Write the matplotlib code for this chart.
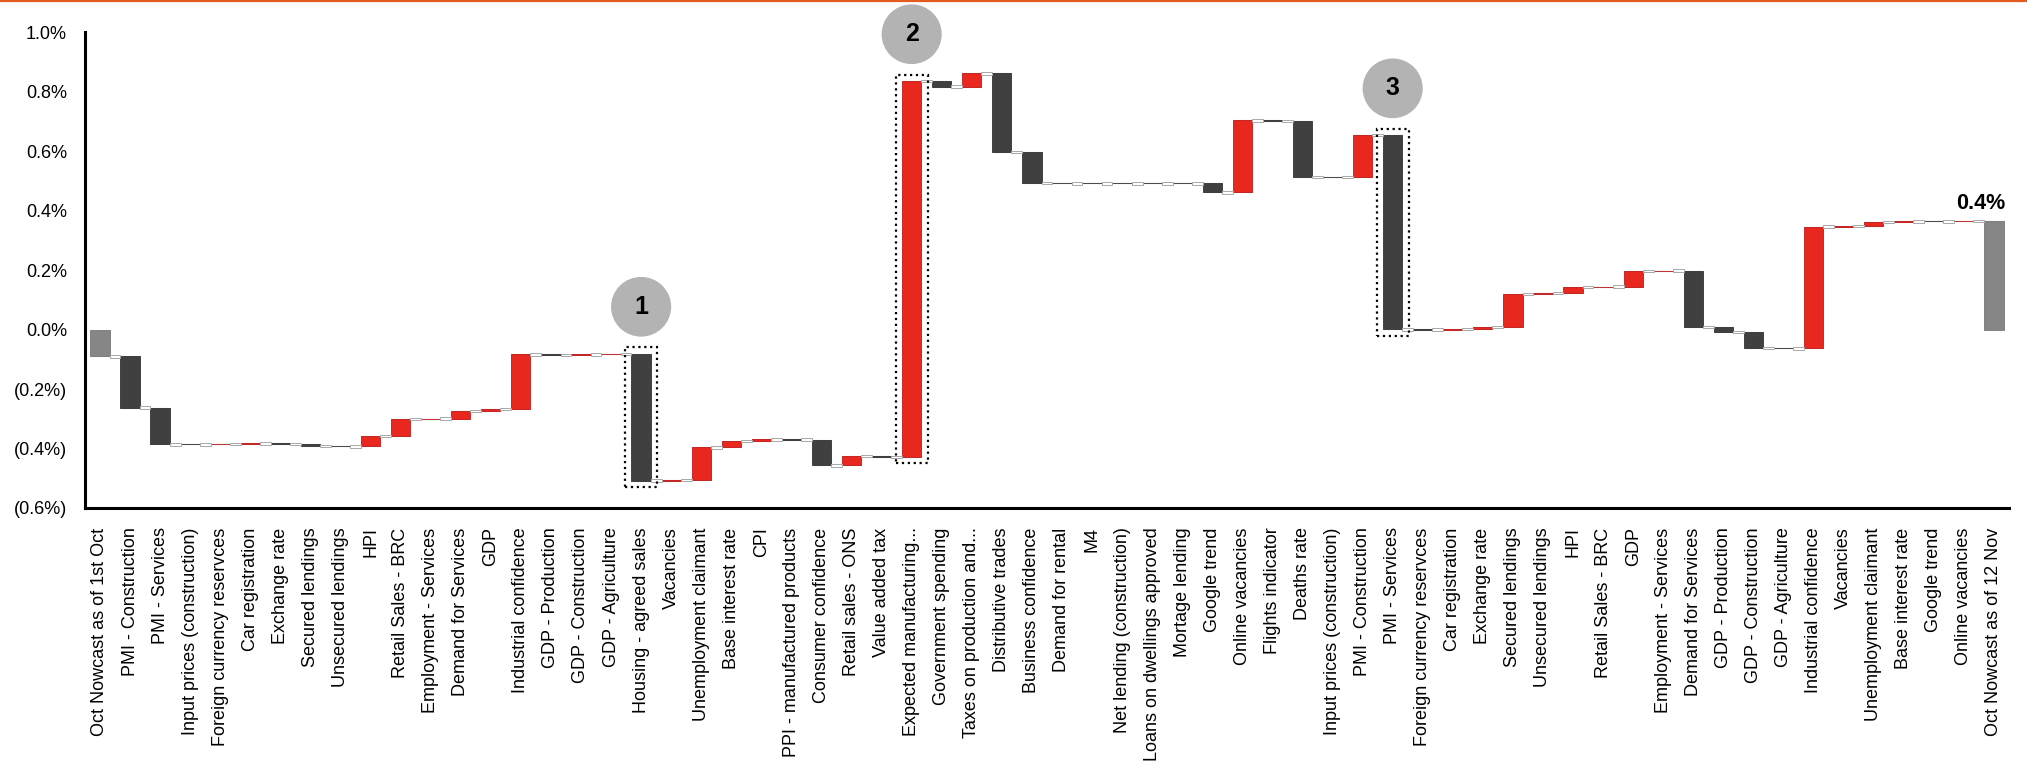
import numpy as np
import matplotlib.pyplot as plt
from matplotlib.patches import Ellipse, Rectangle
from matplotlib.ticker import FuncFormatter

plt.rcParams['font.family'] = ['Liberation Sans', 'DejaVu Sans']

# Category labels (first and last are the nowcast totals)
labels = [
    "Oct Nowcast as of 1st Oct", "PMI - Construction", "PMI - Services",
    "Input prices (construction)", "Foreign currency reservces", "Car registration",
    "Exchange rate", "Secured lendings", "Unsecured lendings", "HPI",
    "Retail Sales - BRC", "Employment - Services", "Demand for Services", "GDP",
    "Industrial confidence", "GDP - Production", "GDP - Construction",
    "GDP - Agriculture", "Housing - agreed sales", "Vacancies",
    "Unemployment claimant", "Base interest rate", "CPI",
    "PPI - manufactured products", "Consumer confidence", "Retail sales - ONS",
    "Value added tax", "Expected manufacturing...", "Government spending",
    "Taxes on production and...", "Distributive trades", "Business confidence",
    "Demand for rental", "M4", "Net lending (construction)",
    "Loans on dwellings approved", "Mortage lending", "Google trend",
    "Online vacancies", "Flights indicator", "Deaths rate",
    "Input prices (construction)", "PMI - Construction", "PMI - Services",
    "Foreign currency reservces", "Car registration", "Exchange rate",
    "Secured lendings", "Unsecured lendings", "HPI", "Retail Sales - BRC", "GDP",
    "Employment - Services", "Demand for Services", "GDP - Production",
    "GDP - Construction", "GDP - Agriculture", "Industrial confidence",
    "Vacancies", "Unemployment claimant", "Base interest rate", "Google trend",
    "Online vacancies", "Oct Nowcast as of 12 Nov",
]

# starting nowcast (%) and contribution of each indicator (%)
start_nowcast = -0.09
changes = [
    -0.172, -0.124, 0.000, 0.001, 0.002, -0.001, -0.008, -0.001, 0.035,
    0.057, 0.002, 0.025, 0.006, 0.185, -0.003, 0.003, 0.002, -0.427,
    0.002, 0.110, 0.021, 0.006, -0.001, -0.087, 0.032, -0.003, 1.264,
    -0.018, 0.044, -0.264, -0.105, -0.001, 0.000, 0.000, 0.000, 0.000,
    -0.030, 0.242, -0.002, -0.189, 0.000, 0.141, -0.653, -0.001, 0.003,
    0.006, 0.111, 0.004, 0.020, 0.001, 0.053, 0.001, -0.191, -0.016,
    -0.053, -0.002, 0.410, 0.002, 0.013, 0.002, 0.000, 0.002,
]
callouts = [18, 27, 43]  # bars marked 1, 2, 3

RED = '#E8281E'
DARK = '#404040'
TOTAL = '#868686'

levels = np.concatenate([[start_nowcast], start_nowcast + np.cumsum(changes)])
end_nowcast = levels[-1]

n = len(labels)
x = np.arange(n)
bottoms = np.concatenate([[0], levels[:-1], [0]])
heights = np.concatenate([[start_nowcast], changes, [end_nowcast]])
colors = [TOTAL] + [RED if c > 0 else DARK for c in changes] + [TOTAL]
edges = ['#777777'] + ['#C01818' if c > 0 else '#333333' for c in changes] + ['#777777']

fig = plt.figure(figsize=(20.27, 7.67), dpi=100)
ax = fig.add_axes([0.0419, 0.3377, 0.9492, 0.62])

bw = 0.64
# connector line and little boxes between bars
ax.hlines(levels, x[:-1] - bw / 2, x[:-1] + 1 + bw / 2, color='#c8c8c8', lw=0.8, zorder=2)
for i, lv in enumerate(levels):
    ax.add_patch(Rectangle((i + bw / 2, lv - 0.004), 1 - bw, 0.008, facecolor='white',
                           edgecolor='#a8a8a8', lw=0.7, zorder=4))

ax.bar(x, heights, bottom=bottoms, width=bw, color=colors, edgecolor=edges,
       linewidth=0.6, zorder=3)

# numbered callouts with dotted frames
for k, i in enumerate(callouts):
    lo = min(bottoms[i], bottoms[i] + heights[i])
    hi = max(bottoms[i], bottoms[i] + heights[i])
    ax.add_patch(Rectangle((i - 0.53, lo - 0.022), 1.06, hi - lo + 0.044, fill=False,
                           edgecolor='black', lw=1.6, linestyle=':', zorder=5))
    cy = hi + 0.158
    ax.add_patch(Ellipse((i, cy), 2.0, 0.201, facecolor='#B3B3B3', edgecolor='none',
                         zorder=5, clip_on=False))
    ax.text(i, cy, str(k + 1), ha='center', va='center', fontsize=18,
            fontweight='bold', zorder=6)

ax.text(n - 1 - 0.45, end_nowcast + 0.04, f'{end_nowcast:.1f}%', ha='center',
        va='baseline', fontsize=15.5, fontweight='bold')

ax.set_xlim(-0.5, n - 0.5)
ax.set_ylim(-0.6, 1.0)
ax.set_yticks(np.arange(-0.6, 1.01, 0.2))
ax.yaxis.set_major_formatter(FuncFormatter(
    lambda v, p: f'{v:.1f}%' if v > -1e-9 else f'({-v:.1f}%)'))
ax.set_xticks(x)
ax.set_xticklabels(labels, rotation=90)
ax.tick_params(axis='x', length=0, pad=14, labelsize=13)
ax.tick_params(axis='y', length=0, pad=13, labelsize=13)

for s in ['top', 'right']:
    ax.spines[s].set_visible(False)
for s in ['left', 'bottom']:
    ax.spines[s].set_linewidth(2.2)
    ax.spines[s].set_color('black')

fig.add_artist(plt.Line2D([0, 1], [0.9985, 0.9985], color='#E35B1E', lw=1.6,
                          transform=fig.transFigure))

fig.savefig('out.png', dpi=100)
